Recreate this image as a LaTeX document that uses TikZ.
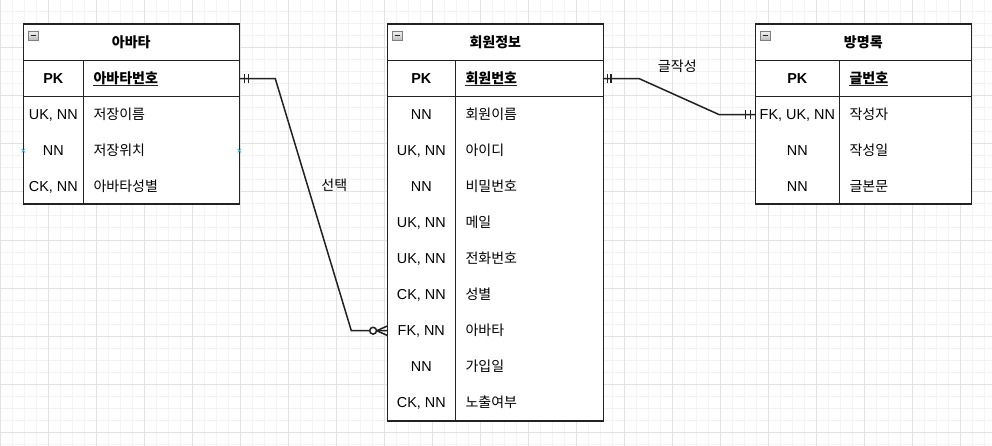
\documentclass[tikz,border=0pt]{standalone}
\usepackage{fontspec}
\setmainfont{Liberation Sans}
\newfontfamily\kr{Noto Sans CJK KR}
\usetikzlibrary{arrows.meta,positioning,calc}
\definecolor{gridmaj}{HTML}{E2E2E2}
\definecolor{gridmin}{HTML}{F3F3F3}
\definecolor{linecol}{HTML}{222222}
\definecolor{hoverblue}{HTML}{29B6F2}

\begin{document}
\begin{tikzpicture}[x=1pt, y=-1pt,
    tline/.style={line width=1.6pt, draw=linecol},
    relline/.style={line width=1.5pt, draw=linecol},
    rowbox/.style={minimum width=216pt, minimum height=36pt, inner sep=0pt, outer sep=0pt},
    keytxt/.style={anchor=base, inner sep=0pt, font=\fontsize{14.4}{17}\selectfont},
    pktxt/.style={anchor=base, inner sep=0pt, font=\bfseries\fontsize{14.4}{17}\selectfont},
    nametxt/.style={anchor=base west, inner sep=0pt, font=\kr\fontsize{14}{17}\selectfont},
    pkname/.style={anchor=base west, inner sep=0pt, font=\kr\bfseries\fontsize{14}{17}\selectfont},
    titletxt/.style={anchor=base, inner sep=0pt, font=\kr\bfseries\fontsize{14}{17}\selectfont},
    reltxt/.style={inner sep=0pt, font=\kr\fontsize{14}{17}\selectfont},
    minusbox/.style={draw=gray, top color=gray!10, bottom color=gray!55, line width=0.8pt},
    xmark/.style={draw=hoverblue, line width=0.6pt}]
    \useasboundingbox (0,0) rectangle (992,446);

    % Background grid
    \fill[white] (0,0) rectangle (992,446);
    \foreach \x in {0,12,...,984} {
        \draw[gridmin, line width=1pt] (\x,0) -- (\x,446);
    }
    \foreach \y in {0,12,...,444} {
        \draw[gridmin, line width=1pt] (0,\y) -- (992,\y);
    }
    \foreach \x in {0,48,...,960} {
        \draw[gridmaj, line width=1pt] (\x,0) -- (\x,446);
    }
    \foreach \y in {0,48,...,432} {
        \draw[gridmaj, line width=1pt] (0,\y) -- (992,\y);
    }

    % Avatar table
    \fill[white] (23.3,24.3) rectangle (239.3,204.3);
    \draw[tline] (23.3,24.3) rectangle (239.3,204.3);
    \draw[tline] (23.3,60.7) -- (239.3,60.7);
    \draw[tline] (23.3,96.7) -- (239.3,96.7);
    \draw[tline] (83.3,60.7) -- (83.3,204.3);
    \shade[minusbox] (28.4,31) rectangle (38.8,40.8);
    \draw[linecol, line width=1.2pt] (31.1,35.9) -- (36.1,35.9);
    \node[titletxt] (av-title) at (131.3,47.7) {아바타};
    \node[rowbox] (av-pk) at (131.3,78.7) {};
    \node[pktxt] at (53.3,83.9) {PK};
    \node[pkname] (av-pkname) at (93.3,83.9) {아바타번호};
    \draw[linecol, line width=1pt] ([yshift=-2pt]av-pkname.base west) -- ([yshift=-2pt]av-pkname.base east);
    \foreach \k/\name [count=\n] in {{UK, NN}/저장이름, NN/저장위치, {CK, NN}/아바타성별} {
        \node[rowbox] (av-r\n) at (131.3,{78.7+36*\n}) {};
        \node[keytxt] at (53.3,{83.9+36*\n}) {\k};
        \node[nametxt] at (93.3,{83.9+36*\n}) {\name};
    }

    % Member table
    \fill[white] (387.3,24.3) rectangle (603.3,420.7);
    \draw[tline] (387.3,24.3) rectangle (603.3,420.7);
    \draw[tline] (387.3,60.7) -- (603.3,60.7);
    \draw[tline] (387.3,96.7) -- (603.3,96.7);
    \draw[tline] (455.3,60.7) -- (455.3,420.7);
    \shade[minusbox] (392.4,31) rectangle (402.8,40.8);
    \draw[linecol, line width=1.2pt] (395.1,35.9) -- (400.1,35.9);
    \node[titletxt] (mem-title) at (495.3,47.7) {회원정보};
    \node[rowbox] (mem-pk) at (495.3,78.7) {};
    \node[pktxt] at (421.3,83.9) {PK};
    \node[pkname] (mem-pkname) at (465.3,83.9) {회원번호};
    \draw[linecol, line width=1pt] ([yshift=-2pt]mem-pkname.base west) -- ([yshift=-2pt]mem-pkname.base east);
    \foreach \k/\name [count=\n] in {NN/회원이름, {UK, NN}/아이디, NN/비밀번호, {UK, NN}/메일,
                                     {UK, NN}/전화번호, {CK, NN}/성별, {FK, NN}/아바타, NN/가입일, {CK, NN}/노출여부} {
        \node[rowbox] (mem-r\n) at (495.3,{78.7+36*\n}) {};
        \node[keytxt] at (421.3,{83.9+36*\n}) {\k};
        \node[nametxt] at (465.3,{83.9+36*\n}) {\name};
    }

    % Guestbook table
    \fill[white] (755.3,24.3) rectangle (971.3,204.3);
    \draw[tline] (755.3,24.3) rectangle (971.3,204.3);
    \draw[tline] (755.3,60.7) -- (971.3,60.7);
    \draw[tline] (755.3,96.7) -- (971.3,96.7);
    \draw[tline] (839.3,60.7) -- (839.3,204.3);
    \shade[minusbox] (760.4,31) rectangle (770.8,40.8);
    \draw[linecol, line width=1.2pt] (763.1,35.9) -- (768.1,35.9);
    \node[titletxt] (gb-title) at (863.3,47.7) {방명록};
    \node[rowbox] (gb-pk) at (863.3,78.7) {};
    \node[pktxt] at (797.3,83.9) {PK};
    \node[pkname] (gb-pkname) at (849.3,83.9) {글번호};
    \draw[linecol, line width=1pt] ([yshift=-2pt]gb-pkname.base west) -- ([yshift=-2pt]gb-pkname.base east);
    \foreach \k/\name [count=\n] in {{FK, UK, NN}/작성자, NN/작성일, NN/글본문} {
        \node[rowbox] (gb-r\n) at (863.3,{78.7+36*\n}) {};
        \node[keytxt] at (797.3,{83.9+36*\n}) {\k};
        \node[nametxt] at (849.3,{83.9+36*\n}) {\name};
    }

    % Relation: avatar -- member (one to zero-or-many)
    \draw[relline] (av-pk.east) -- ++(36,0) -- ([xshift=-36pt]mem-r7.west) -- (mem-r7.west);
    \foreach \d in {5,9.4} {
        \draw[relline] ([xshift=\d pt]av-pk.east) ++(0,-4.7) -- ++(0,9.4);
    }
    \draw[relline] ([xshift=-10.6pt]mem-r7.west) -- ([yshift=4.7pt]mem-r7.west);
    \draw[relline] ([xshift=-10.6pt]mem-r7.west) -- ([yshift=-4.7pt]mem-r7.west);
    \draw[relline, fill=white] ([xshift=-14.2pt]mem-r7.west) circle (3.4);
    \node[reltxt] (sel) at (334.3,185.5) {선택};

    % Relation: member -- guestbook (one to one)
    \draw[relline] (mem-pk.east) -- ++(36,0) -- ([xshift=-36pt]gb-r1.west) -- (gb-r1.west);
    \foreach \d in {4.4,7.9} {
        \draw[relline] ([xshift=\d pt]mem-pk.east) ++(0,-4.7) -- ++(0,9.4);
    }
    \foreach \d in {4.6,9.6} {
        \draw[relline] ([xshift=-\d pt]gb-r1.west) ++(0,-4.7) -- ++(0,9.4);
    }
    \node[reltxt] (write) at (677.3,66) {글작성};

    % Hover marks
    \foreach \p in {av-r2.west, av-r2.east} {
        \draw[xmark] (\p) ++(-1.8,-1.8) -- ++(3.6,3.6) ++(0,-3.6) -- ++(-3.6,3.6);
    }
\end{tikzpicture}
\end{document}
